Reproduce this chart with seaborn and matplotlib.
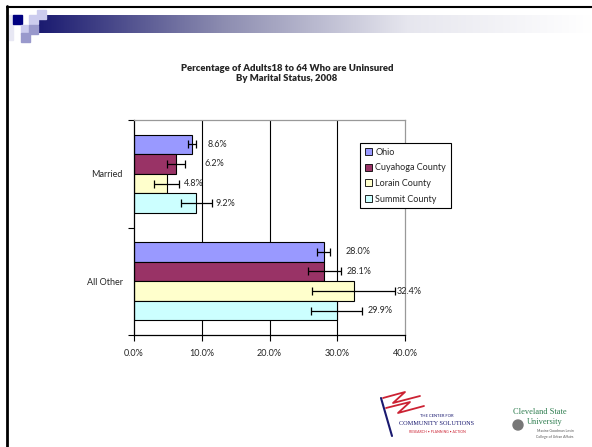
import numpy as np
import pandas as pd
import matplotlib
matplotlib.use("Agg")
import matplotlib.pyplot as plt
from matplotlib.colors import LinearSegmentedColormap
from matplotlib.patches import Rectangle
import seaborn as sns

groups = ["Married", "All Other"]
areas = ["Ohio", "Cuyahoga County", "Lorain County", "Summit County"]
married = [8.6, 6.2, 4.8, 9.2]
all_other = [28.0, 28.1, 32.4, 29.9]
married_err = [0.6, 1.4, 1.85, 2.25]
all_other_err = [0.95, 2.45, 6.1, 3.8]
x_ticks = [0, 10, 20, 30, 40]

colors = ["#9999FF", "#993366", "#FFFFCC", "#CCFFFF"]

df = pd.DataFrame({
    "group": [g for g in groups for _ in areas],
    "area": areas * 2,
    "pct": married + all_other,
    "err": married_err + all_other_err,
})

sns.set_style("white")
plt.rcParams["font.family"] = ["Lato", "DejaVu Sans"]

fig = plt.figure(figsize=(5.92, 4.47), dpi=100)

# slide decoration
bg = fig.add_axes([0, 0, 1, 1], zorder=-1)
bg.set_xlim(0, 592)
bg.set_ylim(447, 0)
bg.axis("off")
bg.plot([7, 7], [6, 447], color="black", lw=2)
bg.plot([7, 592], [6.5, 6.5], color="black", lw=1.5)
grad = LinearSegmentedColormap.from_list("g", ["#1a1a70", "#8c8cb0", "#e6e6ee", "#ffffff"])
bg.imshow(np.linspace(0, 1, 256)[None, :], cmap=grad, aspect="auto",
          extent=[37, 592, 33, 15], zorder=1)
for (x, y, c) in [(13, 15, "#000080"), (29, 15, "#ccccee"), (37, 10, "#ccccee"),
                  (21, 25, "#ccccee"), (29, 25, "#9999cc"), (21, 33, "#9999cc")]:
    bg.add_patch(Rectangle((x, y), 8.5, 9, color=c, zorder=2))
bg.add_patch(Rectangle((9, 15), 4, 25, color="#e8e8f4", zorder=1))

# logos (text approximations)
bg.plot([381, 392], [398, 436], color="#1a1a70", lw=1.5)
bg.plot([383, 405, 393, 420], [398, 392, 403, 396], color="#cc2233", lw=1.3)
bg.plot([386, 410, 398, 424], [408, 402, 413, 406], color="#cc2233", lw=1.3)
bg.text(437, 417, "THE CENTER FOR", fontsize=3, color="#1a1a70", ha="center")
bg.text(437, 425, "COMMUNITY SOLUTIONS", fontsize=4.5, color="#1a1a70", ha="center",
        family="Liberation Serif")
bg.text(437, 433, "RESEARCH • PLANNING • ACTION", fontsize=2.5, color="#cc2233", ha="center")
bg.text(540, 414, "Cleveland State", fontsize=6, color="#2e7d4f", ha="center",
        family="Liberation Serif")
bg.text(545, 424, "University", fontsize=6, color="#2e7d4f", ha="center",
        family="Liberation Serif")
bg.text(555, 432, "Maxine Goodman Levin", fontsize=2.5, color="#555555", ha="center")
bg.text(555, 438, "College of Urban Affairs", fontsize=2.5, color="#555555", ha="center")
bg.add_patch(plt.Circle((518, 425), 5, color="#777777"))

ax = fig.add_axes([134 / 592, 1 - 335 / 447, 271 / 592, 215 / 447])
sns.barplot(data=df, y="group", x="pct", hue="area", hue_order=areas, order=groups,
            orient="h", palette=colors, edgecolor="black", linewidth=0.8,
            width=0.73, errorbar=None, saturation=1, ax=ax)

label_pad = {"Married": [2.2, 4.2, 2.5, 2.9], "All Other": [3.3, 3.3, 6.4, 4.6]}
bar_containers = list(ax.containers)
for i, cont in enumerate(bar_containers):
    for j, bar in enumerate(cont.patches):
        yc = bar.get_y() + bar.get_height() / 2
        v = bar.get_width()
        row = df[(df["group"] == groups[j]) & (df["area"] == areas[i])].iloc[0]
        ax.errorbar(v, yc, xerr=row["err"], fmt="none", ecolor="black",
                    elinewidth=0.9, capsize=2.8, capthick=0.9, zorder=5)
        ax.text(v + label_pad[groups[j]][i], yc, f"{row['pct']:.1f}%",
                fontsize=6.5, va="center", ha="left", zorder=6)

ax.set_xlim(0, 40)
ax.set_ylim(1.5, -0.5)
for xv in x_ticks[1:-1]:
    ax.axvline(xv, color="black", lw=0.8, zorder=0)
ax.set_xticks(x_ticks)
ax.set_xticklabels([f"{v:.1f}%" for v in x_ticks], fontsize=6.5)
ax.set_yticks([-0.5, 0.5, 1.5])
ax.set_yticklabels([])
ax.set_yticks([0, 1], minor=True)
ax.set_yticklabels(groups, minor=True, fontsize=6.5)
ax.tick_params(axis="y", which="major", direction="out", length=4, width=0.8, color="black", left=True)
ax.tick_params(axis="y", which="minor", length=0, pad=8)
ax.tick_params(axis="x", direction="out", length=4, width=0.8, color="black", bottom=True, pad=6)
ax.set_xlabel("")
ax.set_ylabel("")
for s in ["left", "bottom"]:
    ax.spines[s].set_color("black")
    ax.spines[s].set_linewidth(0.9)
for s in ["top", "right"]:
    ax.spines[s].set_visible(True)
    ax.spines[s].set_color("#999999")
    ax.spines[s].set_linewidth(0.9)

leg = ax.legend(loc="upper left", bbox_to_anchor=(0.834, 0.893), fontsize=6.5,
                frameon=True, fancybox=False, edgecolor="black", framealpha=1,
                handlelength=0.8, handleheight=0.8, handletextpad=0.4,
                labelspacing=0.75, borderpad=0.5, borderaxespad=0)
leg.get_frame().set_linewidth(0.8)
for h in leg.legend_handles:
    h.set_edgecolor("black")
    h.set_linewidth(0.6)

fig.text(287 / 592, 1 - 73.5 / 447,
         "Percentage of Adults18 to 64 Who are Uninsured\nBy Marital Status, 2008",
         ha="center", va="center", fontsize=6.8, fontweight="heavy", linespacing=1.1)

fig.savefig("out.png", dpi=100)
